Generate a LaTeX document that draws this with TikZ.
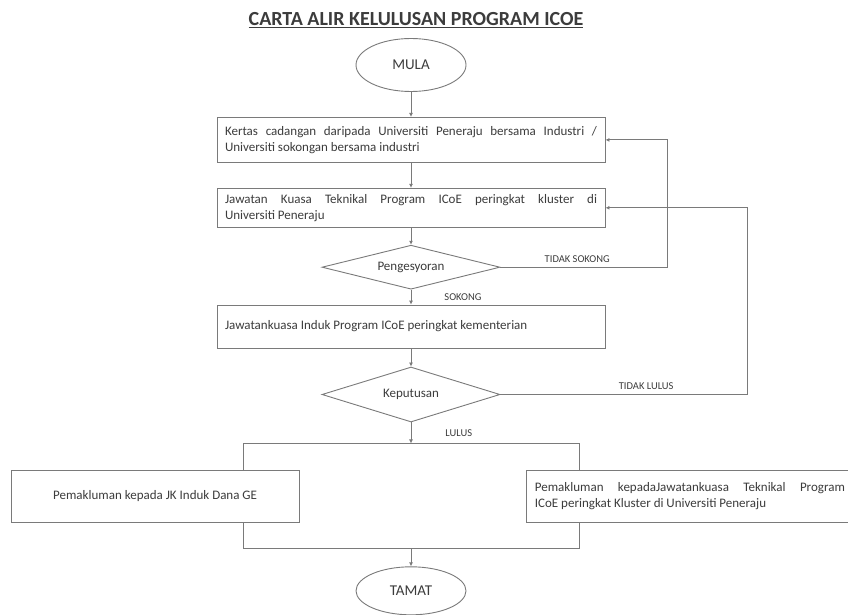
\documentclass[tikz,border=0pt]{standalone}
\usepackage{fontspec}
\setmainfont{Carlito}
\usetikzlibrary{arrows.meta, positioning, shapes.geometric}
\usepackage{xcolor}
\definecolor{edge}{HTML}{7A7A7A}
\definecolor{ink}{HTML}{3C3C3C}

\begin{document}
\begin{tikzpicture}[
  x=1pt, y=1pt,
  terminal/.style={ellipse, draw=edge, line width=0.9pt, fill=white, minimum width=110pt, minimum height=53pt, inner sep=0pt, font=\fontsize{15}{18}\selectfont, text=ink},
  process/.style={rectangle, draw=edge, line width=0.9pt, fill=white, minimum width=388pt, text width=372pt, inner xsep=8pt, inner ysep=2pt, align=justify, font=\fontsize{13}{16}\selectfont, text=ink},
  decision/.style={diamond, aspect=4, draw=edge, line width=0.9pt, fill=white, minimum width=178pt, minimum height=44pt, inner sep=0pt, font=\fontsize{13}{16}\selectfont, text=ink},
  notice/.style={rectangle, draw=edge, line width=0.9pt, fill=white, minimum height=52pt, align=center, font=\fontsize{13}{16}\selectfont, text=ink},
  junction/.style={rectangle, draw=edge, line width=0.9pt, minimum width=336pt, minimum height=105pt},
  tag/.style={font=\fontsize{10.5}{12}\selectfont, text=ink, inner sep=1pt},
  arrow/.style={-{Latex[length=4pt, width=4pt]}, draw=edge, line width=0.9pt, color=edge}
]
  \useasboundingbox (0,0) rectangle (848,-615);

  \node[font=\fontsize{20}{24}\selectfont\bfseries, text=ink] (title) at (416,-20) {\underline{CARTA ALIR KELULUSAN PROGRAM ICOE}};

  \node[terminal] (mula) at (411,-65) {MULA};

  \node[process, below=25pt of mula, minimum height=45pt] (kertas) {Kertas cadangan daripada Universiti Peneraju bersama Industri /\linebreak Universiti sokongan bersama industri};
  \node[process, below=25pt of kertas, minimum height=39pt] (jtk) {Jawatan Kuasa Teknikal Program ICoE peringkat kluster di\linebreak Universiti Peneraju};

  \node[decision, below=17pt of jtk] (peng) {Pengesyoran};

  \node[process, below=15pt of peng, minimum height=43pt] (jki) {Jawatankuasa Induk Program ICoE peringkat kementerian};

  \node[decision, below=18pt of jki, minimum height=55pt, aspect=3.2] (keputusan) {Keputusan};

  \node[junction, below=21pt of keputusan] (makluman) {};

  \node[notice, left=-57pt of makluman, minimum width=288pt] (jkinduk) {Pemakluman kepada JK Induk Dana GE};
  \node[notice, right=-53pt of makluman, minimum width=326pt, text width=310pt, inner xsep=8pt, align=justify] (teknikal) {Pemakluman kepadaJawatankuasa Teknikal Program\linebreak ICoE peringkat Kluster di Universiti Peneraju};

  \node[terminal, below=17pt of makluman, minimum height=48pt] (tamat) {TAMAT};

  \draw[arrow] (mula) -- (kertas);
  \draw[arrow] (kertas) -- (jtk);
  \draw[arrow] (jtk) -- (peng);
  \draw[arrow] (peng) -- node[tag, right=32pt] {SOKONG} (jki);
  \draw[arrow] (jki) -- (keputusan);
  \draw[arrow] (keputusan) -- node[tag, right=33pt] {LULUS} (makluman);
  \draw[arrow] (makluman) -- (tamat);

  \draw[arrow] (peng.east) -- node[tag, above=3pt, pos=0.46] {TIDAK SOKONG} ++(167,0) |- (kertas.east);
  \draw[arrow] (keputusan.east) -- node[tag, above=3pt, pos=0.59] {TIDAK LULUS} ++(247,0) |- (jtk.east);
\end{tikzpicture}
\end{document}
